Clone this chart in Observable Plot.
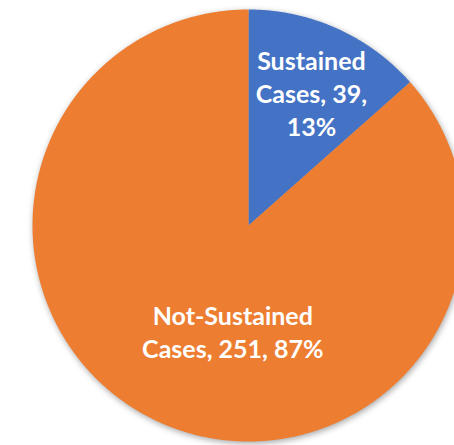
<!DOCTYPE html>
<html>
<head>
<meta charset="utf-8">
<script src="https://cdn.jsdelivr.net/npm/d3@7"></script>
<script src="https://cdn.jsdelivr.net/npm/@observablehq/plot@0.6"></script>
<style>
  html, body { margin: 0; padding: 0; background: #fff; }
  svg { display: block; }
  .slices { filter: drop-shadow(1px 2px 3px rgba(0,0,0,0.35)); }
</style>
</head>
<body>
<script>
const categories = ["Sustained Cases", "Not-Sustained Cases"];
const values = [39, 251];
const colors = ["#4472C4", "#ED7D31"];
const labels = ["Sustained\nCases, 39,\n13%", "Not-Sustained\nCases, 251, 87%"];

const arcs = d3.pie().sort(null).value(d => d.value)(
  categories.map((c, i) => ({category: c, value: values[i], label: labels[i]}))
);

// polygon outline of each slice (center + arc), angles clockwise from 12 o'clock
const outline = [];
for (const a of arcs) {
  const c = a.data.category;
  outline.push({category: c, x: 0, y: 0});
  const n = Math.max(2, Math.ceil((a.endAngle - a.startAngle) / 0.005));
  for (let k = 0; k <= n; k++) {
    const t = a.startAngle + (a.endAngle - a.startAngle) * k / n;
    outline.push({category: c, x: Math.sin(t), y: Math.cos(t)});
  }
  outline.push({category: c, x: 0, y: 0});
}

const labelPos = (a, r) => {
  const m = (a.startAngle + a.endAngle) / 2;
  return {...a.data, x: r * Math.sin(m), y: r * Math.cos(m)};
};

const textStyle = {
  text: "label", fill: "white", fontSize: 25, fontWeight: "bold",
  fontFamily: "Lato, 'Open Sans', sans-serif", lineHeight: 1.32, textAnchor: "middle"
};

const chart = Plot.plot({
  width: 454,
  height: 445,
  margin: 0,
  x: {domain: [-1, 1], range: [32, 464], axis: null},
  y: {domain: [-1, 1], range: [441, 9], axis: null},
  color: {domain: categories, range: colors},
  marks: [
    Plot.line(outline, {x: "x", y: "y", z: "category", fill: "category", stroke: null, curve: "linear", className: "slices"}),
    Plot.text([labelPos(arcs[0], 0.62)], {x: "x", y: "y", dx: 8, dy: -11, ...textStyle}),
    Plot.text([labelPos(arcs[1], 0.55)], {x: "x", y: "y", dx: 33, dy: -3, ...textStyle})
  ]
});
document.body.append(chart);
</script>
</body>
</html>
